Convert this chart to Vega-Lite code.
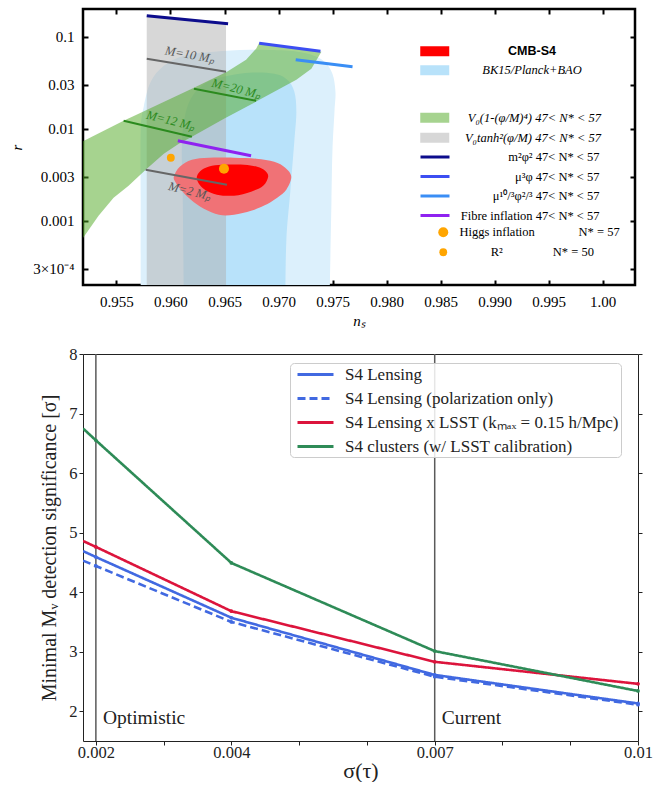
{
 "$schema": "https://vega.github.io/schema/vega-lite/v6.json",
 "background": "white",
 "padding": {"left": 8, "top": 6, "right": 0, "bottom": 0},
 "bounds": "flush",
 "spacing": 69,
 "config": {"font": "Liberation Serif", "view": {"stroke": null}, "legend": {"labelFont": "Liberation Serif"}, "axis": {"labelFont": "Liberation Serif", "titleFont": "Liberation Serif"}},
 "datasets": {
  "bk95": [
   {"i":0,"ns":0.95726,"r":0.00003},
   {"i":1,"ns":0.95724,"r":0.0001},{"i":2,"ns":0.95724,"r":0.00161},{"i":3,"ns":0.95724,"r":0.00928},{"i":4,"ns":0.95752,"r":0.01734},
   {"i":5,"ns":0.95817,"r":0.0324},{"i":6,"ns":0.95938,"r":0.0484},{"i":7,"ns":0.96124,"r":0.0622},{"i":8,"ns":0.96402,"r":0.0687},
   {"i":9,"ns":0.96728,"r":0.0722},{"i":10,"ns":0.97099,"r":0.0704},{"i":11,"ns":0.97304,"r":0.0637},{"i":12,"ns":0.97425,"r":0.0535},
   {"i":13,"ns":0.97499,"r":0.0396},{"i":14,"ns":0.97527,"r":0.0253},{"i":15,"ns":0.97518,"r":0.0153},{"i":16,"ns":0.97499,"r":0.00562},
   {"i":17,"ns":0.9749,"r":0.00161},{"i":18,"ns":0.97471,"r":0.0001},
   {"i":19,"ns":0.97469,"r":0.00003}
  ],
  "bk68": [
   {"model":"BK15/Planck+BAO","i":0,"ns":0.96125,"r":0.00003},
   {"model":"BK15/Planck+BAO","i":1,"ns":0.96124,"r":0.0001},{"model":"BK15/Planck+BAO","i":2,"ns":0.96114,"r":0.00161},
   {"model":"BK15/Planck+BAO","i":3,"ns":0.96105,"r":0.00637},{"model":"BK15/Planck+BAO","i":4,"ns":0.96133,"r":0.0135},
   {"model":"BK15/Planck+BAO","i":5,"ns":0.96189,"r":0.0212},{"model":"BK15/Planck+BAO","i":6,"ns":0.96291,"r":0.0293},
   {"model":"BK15/Planck+BAO","i":7,"ns":0.96449,"r":0.0358},{"model":"BK15/Planck+BAO","i":8,"ns":0.96728,"r":0.0406},
   {"model":"BK15/Planck+BAO","i":9,"ns":0.9696,"r":0.0396},{"model":"BK15/Planck+BAO","i":10,"ns":0.97081,"r":0.0341},
   {"model":"BK15/Planck+BAO","i":11,"ns":0.97146,"r":0.0253},{"model":"BK15/Planck+BAO","i":12,"ns":0.97165,"r":0.0153},
   {"model":"BK15/Planck+BAO","i":13,"ns":0.97146,"r":0.00722},{"model":"BK15/Planck+BAO","i":14,"ns":0.97109,"r":0.00207},
   {"model":"BK15/Planck+BAO","i":15,"ns":0.97072,"r":0.000592},{"model":"BK15/Planck+BAO","i":16,"ns":0.97062,"r":0.0001},
   {"model":"BK15/Planck+BAO","i":17,"ns":0.9706,"r":0.00003}
  ],
  "bands": [
   {"model":"V₀tanh²(φ/M)","i":0,"ns":0.9578,"r":0.0001},{"model":"V₀tanh²(φ/M)","i":1,"ns":0.9578,"r":0.1692},
   {"model":"V₀tanh²(φ/M)","i":2,"ns":0.96514,"r":0.1384},{"model":"V₀tanh²(φ/M)","i":3,"ns":0.96514,"r":0.0001},
   {"model":"V₀(1-(φ/M)⁴)","i":0,"ns":0.9518,"r":0.000622},{"model":"V₀(1-(φ/M)⁴)","i":1,"ns":0.95334,"r":0.00113},
   {"model":"V₀(1-(φ/M)⁴)","i":2,"ns":0.95473,"r":0.00178},{"model":"V₀(1-(φ/M)⁴)","i":3,"ns":0.95612,"r":0.0024},
   {"model":"V₀(1-(φ/M)⁴)","i":4,"ns":0.9577,"r":0.00358},{"model":"V₀(1-(φ/M)⁴)","i":5,"ns":0.95938,"r":0.00535},
   {"model":"V₀(1-(φ/M)⁴)","i":6,"ns":0.96077,"r":0.00687},{"model":"V₀(1-(φ/M)⁴)","i":7,"ns":0.96198,"r":0.00819},
   {"model":"V₀(1-(φ/M)⁴)","i":8,"ns":0.96495,"r":0.01284},{"model":"V₀(1-(φ/M)⁴)","i":9,"ns":0.96793,"r":0.0197},
   {"model":"V₀(1-(φ/M)⁴)","i":10,"ns":0.97165,"r":0.0341},{"model":"V₀(1-(φ/M)⁴)","i":11,"ns":0.97304,"r":0.0449},
   {"model":"V₀(1-(φ/M)⁴)","i":12,"ns":0.97397,"r":0.0687},{"model":"V₀(1-(φ/M)⁴)","i":13,"ns":0.96821,"r":0.0861},
   {"model":"V₀(1-(φ/M)⁴)","i":14,"ns":0.96793,"r":0.0741},{"model":"V₀(1-(φ/M)⁴)","i":15,"ns":0.967,"r":0.0562},
   {"model":"V₀(1-(φ/M)⁴)","i":16,"ns":0.96523,"r":0.0417},{"model":"V₀(1-(φ/M)⁴)","i":17,"ns":0.96217,"r":0.0279},
   {"model":"V₀(1-(φ/M)⁴)","i":18,"ns":0.95705,"r":0.01456},{"model":"V₀(1-(φ/M)⁴)","i":19,"ns":0.95566,"r":0.01222},
   {"model":"V₀(1-(φ/M)⁴)","i":20,"ns":0.9518,"r":0.00722}
  ],
  "s495": [
   {"i":0,"ns":0.96031,"r":0.00301},{"i":1,"ns":0.96086,"r":0.00386},{"i":2,"ns":0.96198,"r":0.0046},{"i":3,"ns":0.96356,"r":0.00484},
   {"i":4,"ns":0.96588,"r":0.00484},{"i":5,"ns":0.96793,"r":0.00472},{"i":6,"ns":0.9696,"r":0.00438},{"i":7,"ns":0.97062,"r":0.00377},
   {"i":8,"ns":0.97118,"r":0.00301},{"i":9,"ns":0.97072,"r":0.00217},{"i":10,"ns":0.96988,"r":0.00178},{"i":11,"ns":0.96867,"r":0.00146},
   {"i":12,"ns":0.96746,"r":0.00128},{"i":13,"ns":0.96588,"r":0.00116},{"i":14,"ns":0.96449,"r":0.00116},{"i":15,"ns":0.96309,"r":0.00135},
   {"i":16,"ns":0.96189,"r":0.00169},{"i":17,"ns":0.96096,"r":0.00217},{"i":18,"ns":0.96049,"r":0.00259}
  ],
  "s468": [
   {"model":"CMB-S4","i":0,"ns":0.96244,"r":0.00301},{"model":"CMB-S4","i":1,"ns":0.96291,"r":0.00358},
   {"model":"CMB-S4","i":2,"ns":0.96384,"r":0.00396},{"model":"CMB-S4","i":3,"ns":0.96514,"r":0.00406},
   {"model":"CMB-S4","i":4,"ns":0.96681,"r":0.00406},{"model":"CMB-S4","i":5,"ns":0.96802,"r":0.00386},
   {"model":"CMB-S4","i":6,"ns":0.96876,"r":0.0035},{"model":"CMB-S4","i":7,"ns":0.96904,"r":0.00301},
   {"model":"CMB-S4","i":8,"ns":0.96858,"r":0.0024},{"model":"CMB-S4","i":9,"ns":0.96746,"r":0.00207},
   {"model":"CMB-S4","i":10,"ns":0.96588,"r":0.00187},{"model":"CMB-S4","i":11,"ns":0.9643,"r":0.00192},
   {"model":"CMB-S4","i":12,"ns":0.96319,"r":0.00217},{"model":"CMB-S4","i":13,"ns":0.96263,"r":0.00252}
  ],
  "models": [
   {"model":"m²φ²","ns":0.9578,"r":0.1692},{"model":"m²φ²","ns":0.96533,"r":0.1384},
   {"model":"μ³φ","ns":0.96821,"r":0.085},{"model":"μ³φ","ns":0.97388,"r":0.0695},
   {"model":"μ¹⁰/³φ²/³","ns":0.97159,"r":0.0562},{"model":"μ¹⁰/³φ²/³","ns":0.97685,"r":0.0472},
   {"model":"Fibre inflation","ns":0.96068,"r":0.00741},{"model":"Fibre inflation","ns":0.96746,"r":0.00509}
  ],
  "mlines": [
   {"label":"M=10 Mₚ","family":"tanh","ns":0.9578,"r":0.0577},{"label":"M=10 Mₚ","family":"tanh","ns":0.96514,"r":0.0417},
   {"label":"M=2 Mₚ","family":"tanh","ns":0.9577,"r":0.00358},{"label":"M=2 Mₚ","family":"tanh","ns":0.96523,"r":0.00246},
   {"label":"M=20 Mₚ","family":"quartic","ns":0.96217,"r":0.0272},{"label":"M=20 Mₚ","family":"quartic","ns":0.96793,"r":0.0201},
   {"label":"M=12 Mₚ","family":"quartic","ns":0.95566,"r":0.01222},{"label":"M=12 Mₚ","family":"quartic","ns":0.96198,"r":0.00819}
  ],
  "mlabels": [
   {"label":"M=10 Mₚ","family":"tanh","ns":0.96179,"r":0.0637},
   {"label":"M=20 Mₚ","family":"quartic","ns":0.96609,"r":0.0272},
   {"label":"M=12 Mₚ","family":"quartic","ns":0.96003,"r":0.01222},
   {"label":"M=2 Mₚ","family":"tanh","ns":0.96179,"r":0.0021}
  ],
  "points": [
   {"model":"Higgs inflation","ns":0.96495,"r":0.00367},
   {"model":"R²","ns":0.96003,"r":0.00484}
  ],
  "sens": [
   {"series":"S4 Lensing","tau":0.00181,"sig":4.69},{"series":"S4 Lensing","tau":0.002,"sig":4.59},{"series":"S4 Lensing","tau":0.004,"sig":3.57},{"series":"S4 Lensing","tau":0.007,"sig":2.61},{"series":"S4 Lensing","tau":0.01,"sig":2.13},
   {"series":"S4 Lensing (polarization only)","tau":0.00181,"sig":4.53},{"series":"S4 Lensing (polarization only)","tau":0.002,"sig":4.44},{"series":"S4 Lensing (polarization only)","tau":0.004,"sig":3.5},{"series":"S4 Lensing (polarization only)","tau":0.007,"sig":2.58},{"series":"S4 Lensing (polarization only)","tau":0.01,"sig":2.11},
   {"series":"S4 Lensing x LSST (kₘₐₓ = 0.15 h/Mpc)","tau":0.00181,"sig":4.86},{"series":"S4 Lensing x LSST (kₘₐₓ = 0.15 h/Mpc)","tau":0.002,"sig":4.76},{"series":"S4 Lensing x LSST (kₘₐₓ = 0.15 h/Mpc)","tau":0.004,"sig":3.68},{"series":"S4 Lensing x LSST (kₘₐₓ = 0.15 h/Mpc)","tau":0.007,"sig":2.83},{"series":"S4 Lensing x LSST (kₘₐₓ = 0.15 h/Mpc)","tau":0.01,"sig":2.46},
   {"series":"S4 clusters (w/ LSST calibration)","tau":0.00181,"sig":6.75},{"series":"S4 clusters (w/ LSST calibration)","tau":0.002,"sig":6.55},{"series":"S4 clusters (w/ LSST calibration)","tau":0.004,"sig":4.49},{"series":"S4 clusters (w/ LSST calibration)","tau":0.007,"sig":3.01},{"series":"S4 clusters (w/ LSST calibration)","tau":0.01,"sig":2.34}
  ],
  "vlines": [
   {"tau":0.002,"label":"Optimistic"},
   {"tau":0.007,"label":"Current"}
  ]
 },
 "vconcat": [
  {
   "width": 552,
   "height": 276,
   "view": {"stroke": "black", "strokeWidth": 2.5},
   "resolve": {"scale": {"fill": "independent", "stroke": "independent", "color": "independent", "size": "independent"}, "axis": {"x": "independent", "y": "independent"}},
   "layer": [
    {
     "data": {"name": "bk95"},
     "mark": {"type": "line", "interpolate": "cardinal-closed", "fill": "#dcf0fc", "strokeWidth": 0, "clip": true},
     "encoding": {
      "x": {"field": "ns", "type": "quantitative", "scale": {"domain": [0.9519, 1.003], "nice": false, "zero": false},
       "axis": {"orient": "bottom", "values": [0.955,0.96,0.965,0.97,0.975,0.98,0.985,0.99,0.995,1.0], "labelExpr": "datum.value >= 0.9999 ? '1.00' : format(datum.value, '.3f')", "tickSize": -5, "tickWidth": 2, "tickColor": "black", "domain": false, "grid": false, "labelFontSize": 15, "labelColor": "black", "labelPadding": 14, "labelFlush": false, "title": "nₛ", "titleFontStyle": "italic", "titleFontWeight": "normal", "titleFontSize": 15, "titleColor": "black", "titlePadding": 4}},
      "y": {"field": "r", "type": "quantitative", "scale": {"type": "log", "domain": [0.0002, 0.2], "nice": false},
       "axis": {"orient": "left", "values": [0.0003,0.001,0.003,0.01,0.03,0.1], "labelExpr": "datum.value < 0.0005 ? '3×10⁻⁴' : format(datum.value, '~g')", "tickSize": -5, "tickWidth": 2, "tickColor": "black", "domain": false, "grid": false, "labelFontSize": 15, "labelColor": "black", "labelPadding": 14, "labelFlush": false, "title": "r", "titleFontStyle": "italic", "titleFontWeight": "normal", "titleFontSize": 15, "titleColor": "black", "titlePadding": 8}},
      "order": {"field": "i", "type": "quantitative"}
     }
    },
    {
     "data": {"name": "bk68"},
     "mark": {"type": "line", "interpolate": "cardinal-closed", "strokeWidth": 0, "clip": true},
     "encoding": {
      "x": {"field": "ns", "type": "quantitative", "scale": {"domain": [0.9519, 1.003], "nice": false, "zero": false},
       "axis": {"orient": "top", "values": [0.955,0.96,0.965,0.97,0.975,0.98,0.985,0.99,0.995,1.0], "labels": false, "tickSize": -5, "tickWidth": 2, "tickColor": "black", "domain": false, "grid": false, "title": null}},
      "y": {"field": "r", "type": "quantitative", "scale": {"type": "log", "domain": [0.0002, 0.2], "nice": false},
       "axis": {"orient": "right", "values": [0.0003,0.001,0.003,0.01,0.03,0.1], "labels": false, "tickSize": -5, "tickWidth": 2, "tickColor": "black", "domain": false, "grid": false, "title": null}},
      "order": {"field": "i", "type": "quantitative"},
      "fill": {"field": "model", "type": "nominal", "scale": {"range": ["#b8e2fa"]},
       "legend": {"orient": "none", "legendX": 336, "legendY": 55, "title": null, "padding": 0, "symbolType": "M-2.9,-1H2.9V1H-2.9Z", "symbolSize": 100, "symbolOffset": 9.5, "symbolStrokeWidth": 0, "symbolOpacity": 1, "labelAlign": "center", "labelOffset": 91, "labelFontStyle": "italic", "labelFontSize": 12.5, "labelColor": "black", "labelLimit": 300}}
     }
    },
    {
     "data": {"name": "bands"},
     "mark": {"type": "line", "interpolate": "linear-closed", "strokeWidth": 0, "fillOpacity": 0.5, "clip": true},
     "encoding": {
      "x": {"field": "ns", "type": "quantitative", "scale": {"domain": [0.9519, 1.003], "nice": false, "zero": false}, "axis": null},
      "y": {"field": "r", "type": "quantitative", "scale": {"type": "log", "domain": [0.0002, 0.2], "nice": false}, "axis": null},
      "order": {"field": "i", "type": "quantitative"},
      "fill": {"field": "model", "type": "nominal", "scale": {"domain": ["V₀(1-(φ/M)⁴)", "V₀tanh²(φ/M)"], "range": ["#4da71f", "#afafaf"]},
       "legend": {"orient": "none", "legendX": 336, "legendY": 102.5, "title": null, "padding": 0, "symbolType": "M-2.9,-1H2.9V1H-2.9Z", "symbolSize": 100, "symbolOffset": 9.5, "symbolStrokeWidth": 0, "symbolOpacity": 0.5, "labelExpr": "datum.label + '   47< N* < 57'", "labelAlign": "right", "labelOffset": 160, "rowPadding": 7, "labelFontStyle": "italic", "labelFontSize": 12.5, "labelColor": "black", "labelLimit": 300}}
     }
    },
    {
     "data": {"name": "s495"},
     "mark": {"type": "line", "interpolate": "cardinal-closed", "fill": "#f07276", "strokeWidth": 0, "clip": true},
     "encoding": {
      "x": {"field": "ns", "type": "quantitative", "scale": {"domain": [0.9519, 1.003], "nice": false, "zero": false}, "axis": null},
      "y": {"field": "r", "type": "quantitative", "scale": {"type": "log", "domain": [0.0002, 0.2], "nice": false}, "axis": null},
      "order": {"field": "i", "type": "quantitative"}
     }
    },
    {
     "data": {"name": "s468"},
     "mark": {"type": "line", "interpolate": "cardinal-closed", "strokeWidth": 0, "clip": true},
     "encoding": {
      "x": {"field": "ns", "type": "quantitative", "scale": {"domain": [0.9519, 1.003], "nice": false, "zero": false}, "axis": null},
      "y": {"field": "r", "type": "quantitative", "scale": {"type": "log", "domain": [0.0002, 0.2], "nice": false}, "axis": null},
      "order": {"field": "i", "type": "quantitative"},
      "fill": {"field": "model", "type": "nominal", "scale": {"range": ["#ff0000"]},
       "legend": {"orient": "none", "legendX": 336, "legendY": 36, "title": null, "padding": 0, "symbolType": "M-2.9,-1H2.9V1H-2.9Z", "symbolSize": 100, "symbolOffset": 9.5, "symbolStrokeWidth": 0, "symbolOpacity": 1, "labelAlign": "center", "labelOffset": 91, "labelFont": "Liberation Sans", "labelFontWeight": "bold", "labelFontSize": 12.5, "labelColor": "black", "labelLimit": 300}}
     }
    },
    {
     "data": {"name": "mlines"},
     "mark": {"type": "line", "strokeWidth": 2, "clip": true},
     "encoding": {
      "x": {"field": "ns", "type": "quantitative", "scale": {"domain": [0.9519, 1.003], "nice": false, "zero": false}, "axis": null},
      "y": {"field": "r", "type": "quantitative", "scale": {"type": "log", "domain": [0.0002, 0.2], "nice": false}, "axis": null},
      "detail": {"field": "label"},
      "color": {"field": "family", "type": "nominal", "scale": {"domain": ["tanh", "quartic"], "range": ["#666666", "#2b8a1e"]}, "legend": null}
     }
    },
    {
     "data": {"name": "models"},
     "mark": {"type": "line", "strokeWidth": 3, "clip": true},
     "encoding": {
      "x": {"field": "ns", "type": "quantitative", "scale": {"domain": [0.9519, 1.003], "nice": false, "zero": false}, "axis": null},
      "y": {"field": "r", "type": "quantitative", "scale": {"type": "log", "domain": [0.0002, 0.2], "nice": false}, "axis": null},
      "stroke": {"field": "model", "type": "nominal", "scale": {"domain": ["m²φ²", "μ³φ", "μ¹⁰/³φ²/³", "Fibre inflation"], "range": ["#0c0c8c", "#3c4ef2", "#3a8ef5", "#8f22f0"]},
       "legend": {"orient": "none", "legendX": 336, "legendY": 141.5, "title": null, "padding": 0, "symbolType": "M-2.9,0H2.9", "symbolSize": 100, "symbolOffset": 9.5, "symbolStrokeWidth": 3, "labelExpr": "datum.label + '   47< N* < 57'", "labelAlign": "right", "labelOffset": 158, "rowPadding": 6.5, "labelFontSize": 12.5, "labelColor": "black", "labelLimit": 300}}
     }
    },
    {
     "data": {"name": "points"},
     "mark": {"type": "circle", "color": "#ffa500", "opacity": 1},
     "encoding": {
      "x": {"field": "ns", "type": "quantitative", "scale": {"domain": [0.9519, 1.003], "nice": false, "zero": false}, "axis": null},
      "y": {"field": "r", "type": "quantitative", "scale": {"type": "log", "domain": [0.0002, 0.2], "nice": false}, "axis": null},
      "size": {"field": "model", "type": "ordinal", "scale": {"domain": ["Higgs inflation", "R²"], "range": [100, 62]},
       "legend": {"orient": "none", "legendX": 354, "legendY": 217, "title": null, "padding": 0, "symbolType": "circle", "symbolFillColor": "#ffa500", "symbolStrokeWidth": 0, "symbolOpacity": 1, "labelExpr": "datum.label == 'R²' ? '\u200b\u00a0\u00a0\u00a0\u00a0\u00a0\u00a0\u00a0\u00a0\u00a0\u00a0R²\u00a0\u00a0\u00a0\u00a0\u00a0\u00a0\u00a0\u00a0\u00a0\u00a0\u00a0\u00a0\u00a0\u00a0\u00a0\u00a0N* = 50' : datum.label + '\u00a0\u00a0\u00a0\u00a0\u00a0\u00a0\u00a0\u00a0\u00a0\u00a0\u00a0\u00a0\u00a0\u00a0N* = 57'", "labelAlign": "left", "labelOffset": 10, "rowPadding": 7, "labelFontSize": 12.5, "labelColor": "black", "labelLimit": 300}}
     }
    },
    {
     "data": {"name": "mlabels"},
     "transform": [{"filter": "datum.family == 'tanh' && datum.r > 0.01"}],
     "mark": {"type": "text", "angle": 10, "fontStyle": "italic", "fontSize": 12.5, "align": "center", "baseline": "middle"},
     "encoding": {
      "x": {"field": "ns", "type": "quantitative", "scale": {"domain": [0.9519, 1.003], "nice": false, "zero": false}, "axis": null},
      "y": {"field": "r", "type": "quantitative", "scale": {"type": "log", "domain": [0.0002, 0.2], "nice": false}, "axis": null},
      "text": {"field": "label"},
      "color": {"field": "family", "type": "nominal", "scale": {"domain": ["tanh", "quartic"], "range": ["#555555", "#2b8a1e"]}, "legend": null}
     }
    },
    {
     "data": {"name": "mlabels"},
     "transform": [{"filter": "!(datum.family == 'tanh' && datum.r > 0.01)"}],
     "mark": {"type": "text", "angle": 14, "fontStyle": "italic", "fontSize": 12.5, "align": "center", "baseline": "middle"},
     "encoding": {
      "x": {"field": "ns", "type": "quantitative", "scale": {"domain": [0.9519, 1.003], "nice": false, "zero": false}, "axis": null},
      "y": {"field": "r", "type": "quantitative", "scale": {"type": "log", "domain": [0.0002, 0.2], "nice": false}, "axis": null},
      "text": {"field": "label"},
      "color": {"field": "family", "type": "nominal", "scale": {"domain": ["tanh", "quartic"], "range": ["#555555", "#2b8a1e"]}, "legend": null}
     }
    }
   ]
  },
  {
   "width": 555,
   "height": 387,
   "view": {"stroke": "#222222", "strokeWidth": 1},
   "resolve": {"axis": {"x": "independent", "y": "independent"}},
   "layer": [
    {
     "data": {"name": "vlines"},
     "mark": {"type": "rule", "color": "#5a5a5a", "strokeWidth": 1.5},
     "encoding": {
      "x": {"field": "tau", "type": "quantitative", "scale": {"domain": [0.00181, 0.01], "nice": false, "zero": false}, "axis": null}
     }
    },
    {
     "data": {"name": "sens"},
     "mark": {"type": "line", "strokeWidth": 2.6, "clip": true},
     "encoding": {
      "x": {"field": "tau", "type": "quantitative", "scale": {"domain": [0.00181, 0.01], "nice": false, "zero": false},
       "axis": {"orient": "bottom", "values": [0.002,0.003,0.004,0.005,0.006,0.007,0.008,0.009,0.01], "labelExpr": "datum.value == 0.01 ? '0.01' : (datum.value == 0.002 || datum.value == 0.004 || datum.value == 0.007) ? format(datum.value, '.3f') : ''", "tickSize": 4, "tickColor": "#222222", "domain": false, "grid": false, "labelFontSize": 16.5, "labelColor": "#222222", "labelPadding": -1, "labelFlush": false, "title": "σ(τ)", "titleFontSize": 22, "titleFontWeight": "normal", "titleColor": "#222222", "titlePadding": 0}},
      "y": {"field": "sig", "type": "quantitative", "scale": {"domain": [1.5, 8], "nice": false, "zero": false},
       "axis": {"orient": "left", "values": [2,3,4,5,6,7,8], "tickSize": 4, "tickColor": "#222222", "domain": false, "grid": false, "labelFontSize": 16.5, "labelColor": "#222222", "labelPadding": 2, "labelFlush": false, "title": "Minimal Mᵥ detection significance [σ]", "titleFontSize": 20, "titleFontWeight": "normal", "titleColor": "#222222", "titlePadding": 9}},
      "color": {"field": "series", "type": "nominal", "scale": {"domain": ["S4 Lensing", "S4 Lensing (polarization only)", "S4 Lensing x LSST (kₘₐₓ = 0.15 h/Mpc)", "S4 clusters (w/ LSST calibration)"], "range": ["#4169e1", "#4169e1", "#dc143c", "#2e8b57"]},
       "legend": {"orient": "none", "legendX": 207, "legendY": 354, "title": null, "fillColor": "rgba(255,255,255,0.85)", "strokeColor": "#cccccc", "cornerRadius": 4, "padding": 2, "symbolType": "M-2.25,0H2.25", "symbolSize": 256, "symbolOffset": 14, "symbolStrokeWidth": 3, "labelFontSize": 17, "labelOffset": 20, "rowPadding": 6, "labelColor": "#222222", "labelLimit": 400}},
      "strokeDash": {"field": "series", "type": "nominal", "scale": {"domain": ["S4 Lensing", "S4 Lensing (polarization only)", "S4 Lensing x LSST (kₘₐₓ = 0.15 h/Mpc)", "S4 clusters (w/ LSST calibration)"], "range": [[1,0],[8,4],[1,0],[1,0]]}}
     }
    },
    {
     "data": {"name": "sens"},
     "transform": [{"filter": "datum.tau >= 0.002"}],
     "mark": {"type": "circle", "size": 14, "opacity": 1},
     "encoding": {
      "x": {"field": "tau", "type": "quantitative", "scale": {"domain": [0.00181, 0.01], "nice": false, "zero": false}, "axis": null},
      "y": {"field": "sig", "type": "quantitative", "scale": {"domain": [1.5, 8], "nice": false, "zero": false},
       "axis": {"orient": "right", "values": [2,3,4,5,6,7,8], "labels": false, "tickSize": 4, "tickColor": "#222222", "domain": false, "grid": false, "title": null}},
      "color": {"field": "series", "type": "nominal", "scale": {"domain": ["S4 Lensing", "S4 Lensing (polarization only)", "S4 Lensing x LSST (kₘₐₓ = 0.15 h/Mpc)", "S4 clusters (w/ LSST calibration)"], "range": ["#4169e1", "#4169e1", "#dc143c", "#2e8b57"]}, "legend": null}
     }
    },
    {
     "data": {"name": "vlines"},
     "mark": {"type": "text", "align": "left", "baseline": "middle", "dx": 7, "fontSize": 19.5, "color": "#222222"},
     "encoding": {
      "x": {"field": "tau", "type": "quantitative", "scale": {"domain": [0.00181, 0.01], "nice": false, "zero": false}, "axis": null},
      "y": {"datum": 1.88, "type": "quantitative", "scale": {"domain": [1.5, 8], "nice": false, "zero": false}, "axis": null},
      "text": {"field": "label"}
     }
    }
   ]
  }
 ]
}
